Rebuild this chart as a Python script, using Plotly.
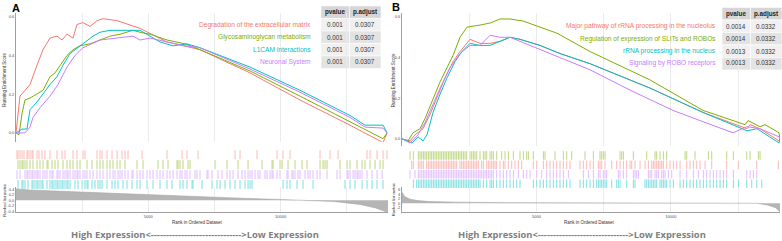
import plotly.graph_objects as go

W, H = 782, 241
N = 14060  # genes in ranked list

# ---------------- data: panel A ----------------
setsA = ["Degradation of the extracellular matrix", "Glycosaminoglycan metabolism",
         "L1CAM interactions", "Neuronal System"]
pvalA = ["0.001", "0.001", "0.001", "0.001"]
padjA = ["0.0307", "0.0307", "0.0307", "0.0307"]

esA_red_x = [0, 38, 151, 340, 529, 794, 1021, 1285, 1550, 1739, 1928, 2155, 2306, 2533, 2797, 3062, 3289, 3818, 4687, 5708, 6955, 8845, 10735, 12625, 13873, 14024]
esA_red_y = [0, 0.05, 0.19, 0.22, 0.25, 0.35, 0.43, 0.49, 0.50, 0.48, 0.51, 0.49, 0.56, 0.57, 0.55, 0.58, 0.59, 0.58, 0.54, 0.47, 0.43, 0.31, 0.17, 0.04, -0.05, 0.0]
esA_grn_x = [0, 113, 227, 340, 529, 794, 1021, 1172, 1285, 1474, 1663, 1928, 2155, 2419, 2797, 3175, 3553, 3931, 4423, 4687, 5065, 5708, 6388, 6955, 8845, 10735, 12625, 13873, 14024]
esA_grn_y = [0, -0.01, 0.10, 0.17, 0.18, 0.20, 0.22, 0.26, 0.29, 0.31, 0.35, 0.40, 0.43, 0.45, 0.46, 0.48, 0.50, 0.51, 0.53, 0.52, 0.51, 0.48, 0.46, 0.43, 0.32, 0.19, 0.06, -0.03, 0.0]
esA_cyn_x = [0, 227, 416, 529, 794, 1021, 1285, 1550, 1777, 2041, 2419, 2684, 2911, 3175, 3553, 4196, 4687, 5065, 5443, 5935, 6464, 6955, 8845, 10735, 12625, 13192, 13873, 14024]
esA_cyn_y = [0, 0.02, 0.02, 0.12, 0.16, 0.20, 0.25, 0.29, 0.35, 0.41, 0.45, 0.48, 0.50, 0.52, 0.53, 0.53, 0.53, 0.50, 0.47, 0.45, 0.46, 0.44, 0.34, 0.22, 0.09, 0.04, 0.04, 0.0]
esA_pur_x = [0, 340, 529, 643, 907, 1285, 1588, 1928, 2230, 2533, 3175, 3818, 4423, 4687, 5065, 5708, 6388, 6955, 8845, 10735, 12625, 13192, 13873, 14024]
esA_pur_y = [0, 0.0, 0.03, 0.08, 0.13, 0.19, 0.25, 0.34, 0.40, 0.44, 0.48, 0.49, 0.50, 0.48, 0.49, 0.47, 0.45, 0.44, 0.33, 0.21, 0.08, 0.03, 0.025, 0.0]

hitsA_red = [38, 76, 151, 227, 302, 416, 454, 529, 605, 643, 794, 869, 983, 1096, 1285, 1550, 1739, 1852, 2155, 2306, 2533, 2608, 3062, 3175, 3251, 3440, 3629, 3818, 4007, 4120, 4234, 4763, 5708, 6275, 6464, 6880, 8278, 8467, 9110, 9866, 10093, 10357, 11491, 11869, 12172, 13268, 13381, 13646, 13873, 14024]
hitsA_grn = [76, 151, 227, 265, 340, 416, 529, 643, 794, 907, 1021, 1172, 1210, 1361, 1474, 1588, 1777, 1928, 2041, 2155, 2306, 2419, 2684, 2873, 3062, 3175, 3289, 3440, 3553, 3667, 3818, 3931, 4120, 4574, 4801, 5368, 5557, 5746, 6086, 6124, 6199, 6313, 6502, 6577, 7522, 7976, 8392, 8770, 9299, 9677, 9715, 9979, 10055, 10282, 10546, 10811, 11000, 11491, 11605, 11680, 11756, 12247, 12512, 12625, 12890, 13079, 13192, 13381, 13570, 13759, 13873]
hitsA_pur = [38, 151, 340, 416, 454, 529, 605, 643, 718, 794, 832, 907, 1021, 1096, 1172, 1285, 1361, 1399, 1550, 1588, 1663, 1777, 1852, 1928, 1966, 2041, 2155, 2230, 2306, 2344, 2419, 2533, 2608, 2684, 2797, 2911, 3062, 3175, 3289, 3440, 3553, 3667, 3742, 3856, 3931, 4007, 4120, 4234, 4385, 4423, 4574, 4687, 4801, 4952, 5065, 5179, 5330, 5443, 5557, 5708, 5821, 5935, 6086, 6199, 6275, 6388, 6464, 6577, 6766, 6842, 6955, 7220, 7258, 7409, 7636, 7787, 7976, 8089, 8203, 8392, 8543, 8656, 8770, 8845, 8921, 9034, 9148, 9223, 9412, 9488, 9601, 9677, 9715, 9866, 9979, 10244, 10282, 10433, 10471, 10546, 10660, 10735, 10924, 11038, 11113, 11227, 11378, 11491, 11756, 12134, 12247, 12512, 12550, 12625, 12739, 12814, 12890, 12928, 13003, 13079, 13268, 13457, 13646, 13835]
hitsA_cyn = [76, 227, 265, 340, 454, 605, 643, 718, 794, 832, 907, 983, 1021, 1172, 1285, 1361, 1399, 1474, 1550, 1588, 1663, 1739, 1777, 1852, 1928, 1966, 2041, 2230, 2344, 2495, 2608, 2684, 2722, 2873, 2986, 3100, 3175, 3251, 3440, 3629, 3742, 3856, 4045, 4196, 4385, 4574, 4687, 4952, 5179, 5443, 5708, 5897, 6199, 6313, 6464, 6653, 6691, 7031, 7409, 7598, 7711, 7900, 8089, 8278, 8467, 8656, 8770, 8845, 8921, 10093, 10244, 10357, 10622, 10849, 11227, 12436, 12625, 12814, 13079, 13268, 13457, 13646, 13873]

metricA_x = [0, 500, 2000, 4000, 6500, 8500, 10000, 11000, 12000, 13000, 13600, 14060]
metricA_y = [0.42, 0.38, 0.32, 0.24, 0.14, 0.08, 0.03, 0.0, -0.04, -0.15, -0.28, -0.45]

# ---------------- data: panel B ----------------
setsB = ["Major pathway of rRNA processing in the nucleolus", "Regulation of expression of SLITs and ROBOs",
         "rRNA processing in the nucleus", "Signaling by ROBO receptors"]
pvalB = ["0.0014", "0.0014", "0.0013", "0.0013"]
padjB = ["0.0332", "0.0332", "0.0332", "0.0332"]

esB_red_x = [0, 298, 484, 781, 1042, 1302, 1600, 1897, 2158, 2530, 2902, 3274, 3646, 4018, 4390, 5134, 5878, 6994, 9226, 11197, 12834, 12946, 13318, 14024, 14060]
esB_red_y = [0, -0.01, 0.02, 0.05, 0.12, 0.20, 0.30, 0.38, 0.43, 0.49, 0.47, 0.47, 0.48, 0.50, 0.49, 0.46, 0.42, 0.37, 0.25, 0.13, 0.05, 0.07, 0.05, -0.01, 0.0]
esB_grn_x = [0, 223, 409, 670, 856, 1153, 1414, 1674, 1897, 2158, 2418, 2902, 3274, 3646, 4018, 4501, 5134, 5766, 6994, 9226, 11198, 12760, 12872, 13318, 13504, 14024, 14060]
esB_grn_y = [0, -0.01, 0.03, 0.05, 0.10, 0.20, 0.28, 0.35, 0.41, 0.50, 0.55, 0.56, 0.57, 0.59, 0.59, 0.58, 0.55, 0.52, 0.43, 0.29, 0.14, 0.07, 0.09, 0.06, 0.07, 0.03, 0.0]
esB_cyn_x = [0, 372, 595, 781, 930, 1042, 1153, 1414, 1674, 1972, 2232, 2530, 2902, 3274, 3646, 4018, 4390, 5134, 5878, 6994, 9226, 11197, 12834, 13206, 14024, 14060]
esB_cyn_y = [0, -0.02, 0.01, -0.01, 0.02, 0.08, 0.13, 0.22, 0.30, 0.38, 0.43, 0.47, 0.46, 0.46, 0.48, 0.50, 0.49, 0.46, 0.42, 0.37, 0.25, 0.13, 0.04, 0.05, -0.02, 0.0]
esB_pur_x = [0, 298, 595, 856, 1153, 1414, 1786, 2158, 2530, 2902, 3274, 3646, 4018, 5134, 5878, 6994, 8482, 10081, 11086, 12313, 12834, 13318, 14024, 14060]
esB_pur_y = [0, -0.02, 0.02, 0.08, 0.17, 0.25, 0.35, 0.42, 0.46, 0.46, 0.51, 0.50, 0.50, 0.44, 0.40, 0.34, 0.24, 0.14, 0.09, 0.03, 0.06, 0.05, 0.01, 0.0]

hitsB_grn = [298, 422, 608, 670, 732, 794, 856, 918, 980, 1042, 1104, 1166, 1228, 1290, 1352, 1414, 1476, 1538, 1600, 1662, 1724, 1786, 1848, 1910, 1972, 2034, 2096, 2158, 2220, 2282, 2344, 2406, 2530, 2592, 2654, 2716, 2778, 2902, 3026, 3088, 3150, 3274, 3336, 3398, 3522, 3708, 3832, 3956, 4142, 4390, 4514, 4638, 4700, 4886, 5258, 5320, 5692, 6002, 6126, 6312, 6808, 7118, 7366, 7428, 7490, 7552, 8110, 8172, 8234, 8606, 9102, 9412, 9474, 9598, 9722, 9846, 10528, 10590, 10900, 11396, 11520, 12078, 12326, 12822, 12946, 13256, 13318]
hitsB_red = [360, 422, 608, 670, 732, 794, 918, 980, 1042, 1104, 1166, 1228, 1290, 1352, 1414, 1476, 1538, 1600, 1662, 1724, 1786, 1848, 1910, 1972, 2034, 2158, 2220, 2282, 2344, 2406, 2468, 2530, 2592, 2654, 2716, 2778, 2840, 2964, 3026, 3150, 3212, 3274, 3336, 3398, 3460, 3522, 3646, 3770, 3832, 3956, 4080, 4204, 4328, 4452, 4886, 5010, 5258, 5382, 5506, 5630, 5754, 5878, 6002, 6126, 6250, 6622, 6746, 6870, 6994, 7118, 7304, 7366, 7428, 7552, 7800, 7986, 8110, 8234, 8358, 8482, 8544, 8668, 8854, 9040, 9164, 9288, 9350, 9412, 9474, 9536, 9598, 9660, 9722, 9846, 9970, 10094, 10218, 10342, 10590, 10714, 10838, 10962, 11086, 11272, 11520, 12078, 12512, 13194, 14000]
hitsB_pur = [298, 484, 608, 670, 732, 794, 856, 918, 980, 1042, 1104, 1166, 1228, 1290, 1352, 1414, 1476, 1538, 1600, 1662, 1724, 1786, 1848, 1910, 1972, 2034, 2096, 2158, 2220, 2282, 2344, 2406, 2468, 2530, 2592, 2654, 2716, 2778, 2840, 2902, 2964, 3026, 3088, 3150, 3212, 3274, 3336, 3398, 3522, 3646, 3770, 3894, 4018, 4142, 4328, 4514, 4638, 4762, 5010, 5196, 5382, 5506, 5630, 5754, 5878, 6002, 6188, 6746, 6932, 7118, 7304, 7366, 7490, 7552, 7614, 8048, 8110, 8234, 8358, 8606, 8668, 8730, 8792, 9164, 9226, 9288, 9412, 9474, 9536, 9660, 9722, 9784, 9908, 10032, 10342, 10590, 10838, 11024, 11210, 11334, 11458, 11582, 11706, 11830, 11954, 12078, 12326, 12822, 12946, 13070, 13194]
hitsB_cyn = [422, 546, 608, 670, 732, 794, 856, 918, 980, 1042, 1104, 1166, 1228, 1290, 1352, 1414, 1476, 1538, 1600, 1662, 1724, 1786, 1848, 1910, 1972, 2034, 2096, 2158, 2220, 2282, 2344, 2406, 2468, 2530, 2592, 2654, 2716, 2778, 2840, 2902, 3026, 3150, 3274, 3336, 3398, 3522, 3646, 3770, 3894, 4018, 4142, 4266, 4390, 4886, 5010, 5134, 5258, 5382, 5506, 5630, 5754, 5878, 6002, 6126, 6250, 6622, 6746, 6870, 6994, 7118, 7242, 7304, 7366, 7428, 7490, 7552, 7614, 7800, 7986, 8048, 8110, 8358, 8606, 8668, 9040, 9102, 9164, 9226, 9288, 9350, 9412, 9474, 9598, 9660, 9722, 9784, 9846, 9970, 10094, 10342, 10466, 10590, 10714, 10838, 10962, 11086, 11210, 11334, 11458, 11582, 11706, 11830, 11954, 12078, 12326, 12512, 12822, 13008, 13194, 13380]

metricB_x = [0, 100, 300, 600, 1000, 2000, 4000, 8000, 12000, 13200, 13600, 13900, 14060]
metricB_y = [5.0, 3.0, 1.8, 1.2, 0.8, 0.5, 0.3, 0.15, 0.05, 0.0, -0.8, -2.0, -3.8]

# ---------------- styling ----------------
RED, GRN, CYN, PUR = "#F8766D", "#7CAE00", "#00BFC4", "#C77CFF"
FONT = "Liberation Sans"


def X(px):
    return px / W


def Y(px):
    return 1 - px / H


fig = go.Figure()


def rug_xy(hits, row):
    xs, ys = [], []
    for h in hits:
        xs += [h, h, None]
        ys += [row + 0.05, row + 0.95, None]
    return xs, ys


def add_panel(idx, es, hits, metric):
    xa = ["x", "x4"][idx]
    ya = ["y", "y4"][idx]
    xr = ["x2", "x5"][idx]
    yr = ["y2", "y5"][idx]
    xm = ["x3", "x6"][idx]
    ym = ["y3", "y6"][idx]
    for (ex, ey, c) in es:
        fig.add_trace(go.Scatter(x=ex, y=ey, mode="lines", line=dict(color=c, width=1),
                                 xaxis=xa, yaxis=ya, showlegend=False, hoverinfo="skip"))
    for row, (hl, c) in enumerate(hits):
        xs, ys = rug_xy(hl, row)
        fig.add_trace(go.Scatter(x=xs, y=ys, mode="lines", line=dict(color=c, width=1),
                                 opacity=0.5, xaxis=xr, yaxis=yr, showlegend=False,
                                 hoverinfo="skip"))
    mx, my = metric
    fig.add_trace(go.Scatter(x=mx, y=my, mode="lines", fill="tozeroy",
                             line=dict(color="#a8a8a8", width=0.6), fillcolor="#b5b5b5",
                             xaxis=xm, yaxis=ym, showlegend=False, hoverinfo="skip"))


add_panel(0,
          [(esA_red_x, esA_red_y, RED), (esA_grn_x, esA_grn_y, GRN),
           (esA_cyn_x, esA_cyn_y, CYN), (esA_pur_x, esA_pur_y, PUR)],
          [(hitsA_red, RED), (hitsA_grn, GRN), (hitsA_pur, PUR), (hitsA_cyn, CYN)],
          (metricA_x, metricA_y))
add_panel(1,
          [(esB_red_x, esB_red_y, RED), (esB_grn_x, esB_grn_y, GRN),
           (esB_cyn_x, esB_cyn_y, CYN), (esB_pur_x, esB_pur_y, PUR)],
          [(hitsB_grn, GRN), (hitsB_red, RED), (hitsB_pur, PUR), (hitsB_cyn, CYN)],
          (metricB_x, metricB_y))

grid_vals = [2500, 5000, 7500, 10000, 12500]
tickfont = dict(family=FONT, size=4, color="#4d4d4d")
AXC = "#a0a0a0"

layout = dict(
    width=W, height=H, margin=dict(l=0, r=0, t=0, b=0),
    paper_bgcolor="white", plot_bgcolor="rgba(0,0,0,0)",
    showlegend=False,
)


def axes(idx, x0, x1, es_range, es_dom, es_ticks, rug_dom, m_range, m_dom, m_ticks, m_text):
    n = idx * 3
    k = lambda i: "" if (n + i) == 1 else str(n + i)
    layout["xaxis" + k(1)] = dict(domain=[X(x0), X(x1)], range=[0, N], anchor="y" + k(1),
                                  tickvals=grid_vals, showticklabels=False, ticks="",
                                  showgrid=True, gridcolor="#ebebeb", gridwidth=0.6,
                                  zeroline=False, showline=False)
    layout["yaxis" + k(1)] = dict(domain=[Y(es_dom[1]), Y(es_dom[0])], range=es_range,
                                  anchor="x" + k(1), tickvals=es_ticks,
                                  ticktext=["%.1f" % v for v in es_ticks], tickfont=tickfont,
                                  ticks="", showgrid=False, zeroline=False, showline=True,
                                  linecolor=AXC, linewidth=1)
    layout["xaxis" + k(2)] = dict(domain=[X(x0), X(x1)], range=[0, N], anchor="y" + k(2),
                                  visible=False)
    layout["yaxis" + k(2)] = dict(domain=[Y(rug_dom[1]), Y(rug_dom[0])], range=[4, 0],
                                  anchor="x" + k(2), visible=False)
    layout["xaxis" + k(3)] = dict(domain=[X(x0), X(x1)], range=[0, N], anchor="y" + k(3),
                                  tickvals=grid_vals, ticktext=["", "5000", "", "10000", ""],
                                  tickfont=tickfont, ticks="", showgrid=True,
                                  gridcolor="#ebebeb", gridwidth=0.6, zeroline=False,
                                  showline=True, linecolor=AXC, linewidth=1)
    layout["yaxis" + k(3)] = dict(domain=[Y(m_dom[1]), Y(m_dom[0])], range=m_range,
                                  anchor="x" + k(3), tickvals=m_ticks, ticktext=m_text,
                                  tickfont=tickfont, ticks="", showgrid=False, zeroline=False,
                                  showline=True, linecolor=AXC, linewidth=1)


axes(0, 16, 388, [-0.046, 0.62], (12, 142), [0.0, 0.2, 0.4, 0.6], (150, 190),
     [-0.436, 0.473], (188, 213), [-0.4, -0.2, 0.0, 0.2, 0.4], ["-0.4", "-0.2", "0.0", "0.2", "0.4"])
axes(1, 402, 780, [-0.034, 0.62], (12, 146), [0.0, 0.2, 0.4, 0.6], (151, 189),
     [-4.0, 7.1], (188, 213), [-2, 0, 2, 4, 6], ["-2", "0", "2", "4", "6"])

fig.update_layout(**layout)

ann = []
shapes = []


def text(x, y, s, size, color="#333", bold=False, xanchor="center", angle=0, family=FONT):
    ann.append(dict(x=X(x), y=Y(y), xref="paper", yref="paper", text=("<b>%s</b>" % s) if bold else s,
                    showarrow=False, xanchor=xanchor, yanchor="middle", textangle=angle,
                    font=dict(family=family, size=size, color=color)))


def rect(x0, y0, x1, y1, fill):
    shapes.append(dict(type="rect", xref="paper", yref="paper", x0=X(x0), x1=X(x1),
                       y0=Y(y1), y1=Y(y0), fillcolor=fill, line=dict(width=0.6, color="white"),
                       layer="below"))


def table(sets, pv, pa, cols, lab_right, c0, c1, c2, top, rows_y, hdr_y, row_h):
    rect(c0, top, c1, top + row_h, "#d6d6d6")
    rect(c1, top, c2, top + row_h, "#d6d6d6")
    text((c0 + c1) / 2, hdr_y, "pvalue", 6.3, "#222", bold=True)
    text((c1 + c2) / 2, hdr_y, "p.adjust", 6.3, "#222", bold=True)
    for i, (s, p, q, c) in enumerate(zip(sets, pv, pa, cols)):
        y0 = top + row_h * (i + 1)
        fill = "#f0f0f0" if i % 2 == 0 else "#e3e3e3"
        rect(c0, y0, c1, y0 + row_h, fill)
        rect(c1, y0, c2, y0 + row_h, fill)
        text(lab_right, rows_y[i], s, 6.6, c, xanchor="right")
        text((c0 + c1) / 2, rows_y[i], p, 6.3, "#333")
        text((c1 + c2) / 2, rows_y[i], q, 6.3, "#333")


table(setsA, pvalA, padjA, [RED, GRN, CYN, PUR], 313, 321, 349.5, 381, 5, [24, 36.5, 49, 61.5], 11, 12.6)
table(setsB, pvalB, padjB, [RED, GRN, CYN, PUR], 718, 722, 750.5, 782, 6.5, [25.5, 38, 50.5, 62.5], 13, 12.6)

text(16, 7, "A", 11, "#000", bold=True)
text(396, 6, "B", 11, "#000", bold=True)

text(4.5, 80, "Running Enrichment Score", 4.5, "#333", angle=-90)
text(4.5, 201, "Ranked list metric", 4.2, "#333", angle=-90)
text(393, 80, "Running Enrichment Score", 4.5, "#333", angle=-90)
text(393, 201, "Ranked list metric", 4.2, "#333", angle=-90)

text(197, 223.5, "Rank in Ordered Dataset", 4.5, "#333")
text(589, 223.5, "Rank in Ordered Dataset", 4.5, "#333")

cap = "High Expression&lt;" + "-" * 30 + "&gt;Low Expression"
text(195, 235.5, cap, 9.4, "#7f7f7f", bold=True, family="Open Sans")
text(582, 235.5, cap, 9.4, "#7f7f7f", bold=True, family="Open Sans")

fig.update_layout(annotations=ann, shapes=shapes)
fig.write_html("out.html", config={"displayModeBar": False},
               post_script="document.body.style.margin='0px';document.body.style.overflow='hidden';")
